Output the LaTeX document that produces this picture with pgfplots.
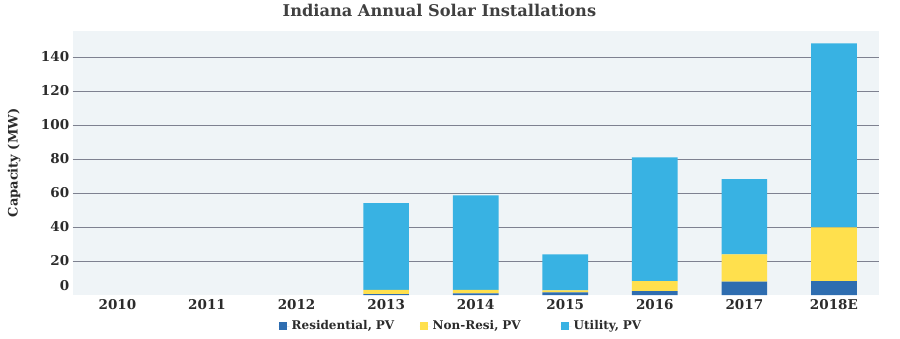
\documentclass[border=0pt]{standalone}
\usepackage{pgfplots}
\pgfplotsset{compat=1.18}
\usepackage{fontspec}
\setmainfont{DejaVu Serif}
\definecolor{resi}{HTML}{2E6DB0}
\definecolor{nonresi}{HTML}{FFE04D}
\definecolor{util}{HTML}{38B2E3}
\definecolor{bgc}{HTML}{EFF4F7}
\definecolor{gridc}{HTML}{7E8190}
\definecolor{txt}{HTML}{2B2B2B}
\begin{document}
\begin{tikzpicture}
\useasboundingbox (-72.7pt,-43pt) rectangle (827.3pt,295pt);
\begin{axis}[
  at={(0pt,0pt)}, anchor=south west,
  scale only axis, width=806pt, height=264pt,
  ybar stacked, bar width=45.7pt,
  xmin=-0.5, xmax=8.5, ymin=0, ymax=155.3,
  xtick={0,...,8},
  xticklabels={2010,2011,2012,2013,2014,2015,2016,2017,2018E},
  ytick={20,40,...,140},
  extra y ticks={0},
  extra y tick style={grid=none, yticklabel style={yshift=9pt}},
  ymajorgrids, grid style={gridc, line width=1pt},
  axis line style={draw=none},
  major tick length=0pt,
  axis background/.style={fill=bgc},
  ticklabel style={font=\fontsize{13.5}{15}\selectfont\bfseries, text=txt},
  xticklabel style={yshift=-1pt},
  /pgf/number format/assume math mode=true,
  ylabel={Capacity (MW)},
  every axis y label/.style={at={(axis description cs:-0.0728,0.5)}, rotate=90, anchor=center, font=\fontsize{13}{15}\selectfont\bfseries, text=txt},
  title={Indiana Annual Solar Installations},
  title style={at={(axis description cs:0.455,1)}, anchor=center, yshift=15pt, font=\fontsize{16.2}{19}\selectfont\bfseries, text=txt!90!white},
  legend columns=3,
  legend style={at={(axis description cs:0.2516,0)}, anchor=west, yshift=-31pt, draw=none, fill=none,
    font=\fontsize{12}{14}\selectfont\bfseries, text=txt,
    nodes={text width=126pt, align=left},
    /tikz/every even column/.append style={column sep=0pt}},
  legend image code/.code={\fill[#1] (0pt,-4pt) rectangle (8pt,4pt); \path (0pt,0pt) -- (11pt,0pt);},
]
\addplot[fill=resi, draw=none] coordinates {(0,0) (1,0) (2,0) (3,0.5) (4,1) (5,1.5) (6,2.3) (7,7.8) (8,8.2)};
\addplot[fill=nonresi, draw=none] coordinates {(0,0) (1,0) (2,0) (3,2.5) (4,2) (5,1.2) (6,5.9) (7,16.1) (8,31.6)};
\addplot[fill=util, draw=none] coordinates {(0,0) (1,0) (2,0) (3,51.1) (4,55.6) (5,21.2) (6,72.8) (7,44.3) (8,108.2)};
\legend{{Residential, PV}, {Non-Resi, PV}, {Utility, PV}}
\end{axis}
\end{tikzpicture}
\end{document}
